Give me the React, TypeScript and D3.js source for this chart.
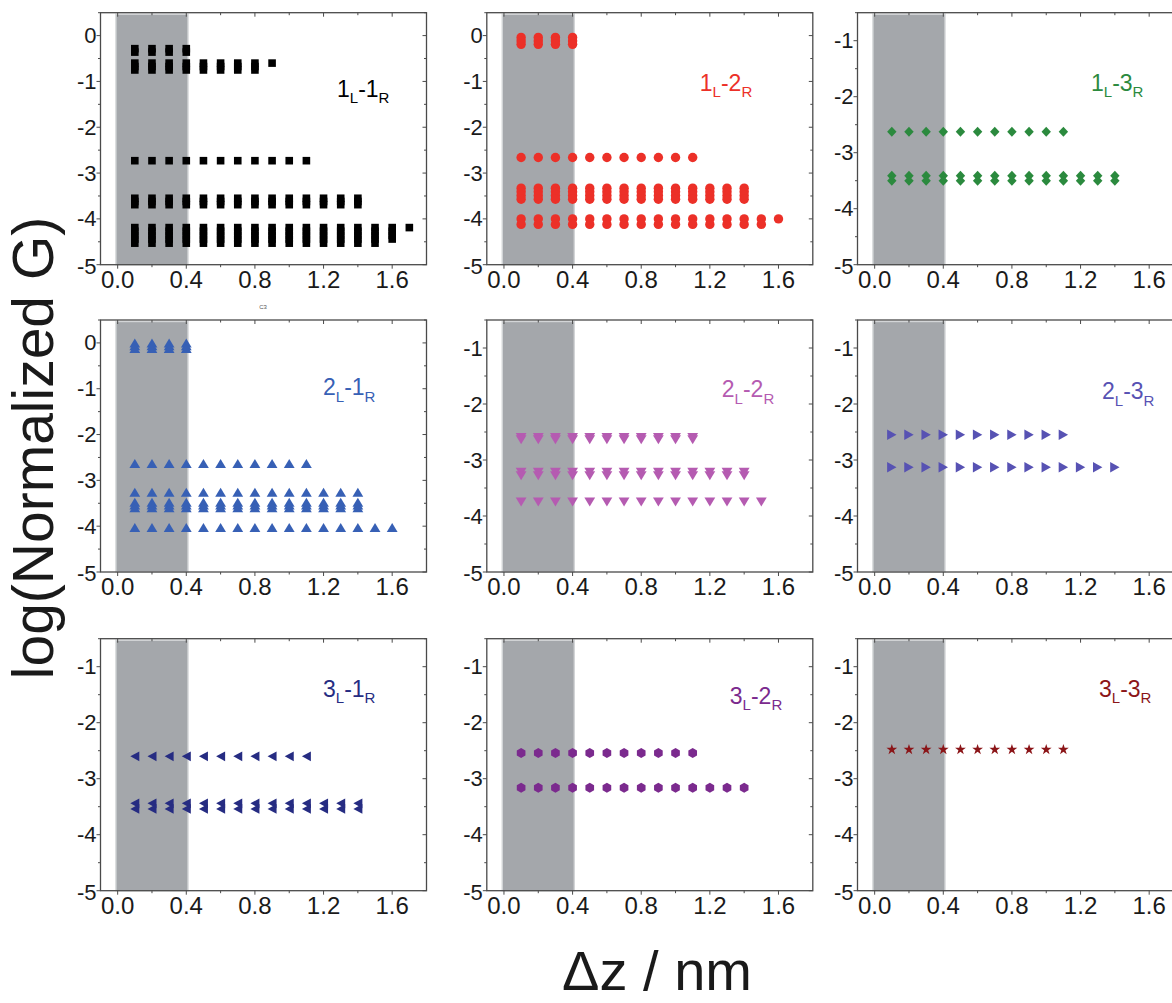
import React from "react";
import * as d3 from "d3";

// ---- Data ----
// Δz positions (nm) at which G was sampled, per series length
const dz4 = [0.1, 0.2, 0.3, 0.4];
const dz8 = [0.1, 0.2, 0.3, 0.4, 0.5, 0.6, 0.7, 0.8];
const dz9 = [0.1, 0.2, 0.3, 0.4, 0.5, 0.6, 0.7, 0.8, 0.9];
const dz11 = [0.1, 0.2, 0.3, 0.4, 0.5, 0.6, 0.7, 0.8, 0.9, 1.0, 1.1];
const dz14 = [0.1, 0.2, 0.3, 0.4, 0.5, 0.6, 0.7, 0.8, 0.9, 1.0, 1.1, 1.2, 1.3, 1.4];
const dz15 = [0.1, 0.2, 0.3, 0.4, 0.5, 0.6, 0.7, 0.8, 0.9, 1.0, 1.1, 1.2, 1.3, 1.4, 1.5];
const dz16 = [0.1, 0.2, 0.3, 0.4, 0.5, 0.6, 0.7, 0.8, 0.9, 1.0, 1.1, 1.2, 1.3, 1.4, 1.5, 1.6];
const dz17 = [0.1, 0.2, 0.3, 0.4, 0.5, 0.6, 0.7, 0.8, 0.9, 1.0, 1.1, 1.2, 1.3, 1.4, 1.5, 1.6, 1.7];

type Level = { logG: number; dz: number[] };

const levels1L1R: Level[] = [
  { logG: -0.285, dz: dz4 },
  { logG: -0.36, dz: dz4 },
  { logG: -0.6, dz: dz9 },
  { logG: -0.675, dz: dz8 },
  { logG: -0.75, dz: dz8 },
  { logG: -2.73, dz: dz11 },
  { logG: -3.55, dz: dz14 },
  { logG: -3.62, dz: dz14 },
  { logG: -3.69, dz: dz14 },
  { logG: -4.19, dz: dz17 },
  { logG: -4.27, dz: dz16 },
  { logG: -4.36, dz: dz16 },
  { logG: -4.44, dz: dz16 },
  { logG: -4.53, dz: dz15 },
];
const levels1L2R: Level[] = [
  { logG: -0.04, dz: dz4 },
  { logG: -0.115, dz: dz4 },
  { logG: -0.19, dz: dz4 },
  { logG: -2.66, dz: dz11 },
  { logG: -3.33, dz: dz14 },
  { logG: -3.41, dz: dz14 },
  { logG: -3.49, dz: dz14 },
  { logG: -3.57, dz: dz14 },
  { logG: -4.0, dz: dz16 },
  { logG: -4.12, dz: dz15 },
];
const levels1L3R: Level[] = [
  { logG: -2.625, dz: dz11 },
  { logG: -3.41, dz: dz14 },
  { logG: -3.5, dz: dz14 },
];
const levels2L1R: Level[] = [
  { logG: 0.0, dz: dz4 },
  { logG: -0.06, dz: dz4 },
  { logG: -0.12, dz: dz4 },
  { logG: -2.63, dz: dz11 },
  { logG: -3.26, dz: dz14 },
  { logG: -3.48, dz: dz14 },
  { logG: -3.54, dz: dz14 },
  { logG: -3.6, dz: dz14 },
  { logG: -4.03, dz: dz16 },
];
const levels2L2R: Level[] = [
  { logG: -2.6, dz: dz11 },
  { logG: -2.64, dz: dz11 },
  { logG: -3.22, dz: dz14 },
  { logG: -3.28, dz: dz14 },
  { logG: -3.75, dz: dz15 },
];
const levels2L3R: Level[] = [
  { logG: -2.55, dz: dz11 },
  { logG: -3.13, dz: dz14 },
];
const levels3L1R: Level[] = [
  { logG: -2.6, dz: dz11 },
  { logG: -3.44, dz: dz14 },
  { logG: -3.54, dz: dz14 },
];
const levels3L2R: Level[] = [
  { logG: -2.54, dz: dz11 },
  { logG: -3.16, dz: dz14 },
];
const levels3L3R: Level[] = [{ logG: -2.48, dz: dz11 }];

const xMajorTicks = [0.0, 0.4, 0.8, 1.2, 1.6];
const xMinorTicks = [0.2, 0.6, 1.0, 1.4];
const yTicksFull = [0, -1, -2, -3, -4, -5];
const yTicksLow = [-1, -2, -3, -4, -5];
const yMinorFull = [0.5, -0.5, -1.5, -2.5, -3.5, -4.5];
const yMinorLow = [-0.5, -1.5, -2.5, -3.5, -4.5];
const bandRange = [-0.01, 0.41];
const xDomain = [-0.1, 1.8];

// ---- Layout / style ----
const FONT = "Arial, 'Liberation Sans', Helvetica, sans-serif";
const colLeft = [100.5, 486.8, 857.5];
const rowTop = [12.7, 320, 638.7];
const PW = 326;
const PH = 252;

const hexPath = (() => {
  const r = 5;
  const pts = d3.range(6).map((i) => {
    const a = (Math.PI / 3) * i - Math.PI / 2;
    return [r * Math.cos(a), r * Math.sin(a)];
  });
  return "M" + pts.map((p) => p[0].toFixed(2) + "," + p[1].toFixed(2)).join("L") + "Z";
})();

const markerPaths: Record<string, string> = {
  square: "M-3.8,-3.8h7.6v7.6h-7.6z",
  circle: d3.symbol(d3.symbolCircle, Math.PI * 4.7 * 4.7)() as string,
  diamond: "M0,-5L4.7,0L0,5L-4.7,0Z",
  triUp: "M0,-4.5L5.4,4.5L-5.4,4.5Z",
  triDown: "M0,4.5L5.4,-4.5L-5.4,-4.5Z",
  triRight: "M4.7,0L-4.7,-5.3L-4.7,5.3Z",
  triLeft: "M-4.5,0L4.5,-4.9L4.5,4.9Z",
  hexagon: hexPath,
  star: d3.symbol(d3.symbolStar, 36)() as string,
};

type PanelDef = {
  levels: Level[];
  color: string;
  marker: string;
  yTop: number;
  col: number;
  row: number;
  lab: [string, string, string, string];
  lx: number;
  ly: number;
};

const panels: PanelDef[] = [
  { levels: levels1L1R, color: "#000000", marker: "square", yTop: 0.5, col: 0, row: 0, lab: ["1", "L", "-1", "R"], lx: 236.5, ly: 84.3 },
  { levels: levels1L2R, color: "#ec3028", marker: "circle", yTop: 0.5, col: 1, row: 0, lab: ["1", "L", "-2", "R"], lx: 213, ly: 78.3 },
  { levels: levels1L3R, color: "#2b8a3e", marker: "diamond", yTop: -0.5, col: 2, row: 0, lab: ["1", "L", "-3", "R"], lx: 233.5, ly: 78.3 },
  { levels: levels2L1R, color: "#3760b5", marker: "triUp", yTop: 0.5, col: 0, row: 1, lab: ["2", "L", "-1", "R"], lx: 222.5, ly: 75 },
  { levels: levels2L2R, color: "#b55bb1", marker: "triDown", yTop: -0.5, col: 1, row: 1, lab: ["2", "L", "-2", "R"], lx: 235, ly: 77 },
  { levels: levels2L3R, color: "#5752b3", marker: "triRight", yTop: -0.5, col: 2, row: 1, lab: ["2", "L", "-3", "R"], lx: 244.5, ly: 79 },
  { levels: levels3L1R, color: "#262c82", marker: "triLeft", yTop: -0.5, col: 0, row: 2, lab: ["3", "L", "-1", "R"], lx: 222.5, ly: 58 },
  { levels: levels3L2R, color: "#7b2a8e", marker: "hexagon", yTop: -0.5, col: 1, row: 2, lab: ["3", "L", "-2", "R"], lx: 243, ly: 65 },
  { levels: levels3L3R, color: "#8b1518", marker: "star", yTop: -0.5, col: 2, row: 2, lab: ["3", "L", "-3", "R"], lx: 241.5, ly: 58 },
];

const FRAME = "#4a4a4a";

function Panel({ p }: { p: PanelDef }) {
  const left = colLeft[p.col];
  const top = rowTop[p.row];
  const x = d3.scaleLinear().domain(xDomain).range([0, PW]);
  const y = d3.scaleLinear().domain([-5, p.yTop]).range([PH, 0]);
  const yMajor = p.yTop > 0 ? yTicksFull : yTicksLow;
  const yMinor = p.yTop > 0 ? yMinorFull : yMinorLow;
  const path = markerPaths[p.marker];
  return (
    <g transform={`translate(${left},${top})`}>
      <rect
        x={x(bandRange[0])}
        y={1.5}
        width={x(bandRange[1]) - x(bandRange[0])}
        height={PH - 1.5}
        fill="#a4a7ab"
        stroke="#d3d5d7"
        strokeWidth={1.4}
      />
      {p.levels.map((lv, i) => (
        <g key={i} fill={p.color}>
          {lv.dz.map((d, j) => (
            <path key={j} d={path} transform={`translate(${x(d)},${y(lv.logG)})`} />
          ))}
        </g>
      ))}
      <rect x={0} y={0} width={PW} height={PH} fill="none" stroke={FRAME} strokeWidth={1.3} />
      {xMajorTicks.map((t) => (
        <g key={"xm" + t}>
          <line x1={x(t)} x2={x(t)} y1={PH} y2={PH + 4} stroke={FRAME} strokeWidth={1} />
          <line x1={x(t)} x2={x(t)} y1={0} y2={4} stroke={FRAME} strokeWidth={1} />
          <text x={x(t)} y={PH + 23} fontSize={24} textAnchor="middle" fill="#1a1a1a" fontFamily={FONT}>
            {t.toFixed(1)}
          </text>
        </g>
      ))}
      {xMinorTicks.map((t) => (
        <g key={"xn" + t}>
          <line x1={x(t)} x2={x(t)} y1={PH} y2={PH + 2.5} stroke={FRAME} strokeWidth={1} />
          <line x1={x(t)} x2={x(t)} y1={0} y2={2.5} stroke={FRAME} strokeWidth={1} />
        </g>
      ))}
      {yMajor.map((t) => (
        <g key={"ym" + t}>
          <line x1={-4} x2={0} y1={y(t)} y2={y(t)} stroke={FRAME} strokeWidth={1} />
          <line x1={PW - 4} x2={PW} y1={y(t)} y2={y(t)} stroke={FRAME} strokeWidth={1} />
          <text
            x={-4}
            y={y(t) + (t === -5 ? 9 : 7.5)}
            fontSize={22}
            textAnchor="end"
            fill="#1a1a1a"
            fontFamily={FONT}
          >
            {String(t)}
          </text>
        </g>
      ))}
      {yMinor.map((t) => (
        <g key={"yn" + t}>
          <line x1={-2.5} x2={0} y1={y(t)} y2={y(t)} stroke={FRAME} strokeWidth={1} />
          <line x1={PW - 2.5} x2={PW} y1={y(t)} y2={y(t)} stroke={FRAME} strokeWidth={1} />
        </g>
      ))}
      <text x={p.lx} y={p.ly} fontSize={23} fill={p.color} fontFamily={FONT}>
        {p.lab[0]}
        <tspan fontSize={15} dy={6.5}>
          {p.lab[1]}
        </tspan>
        <tspan fontSize={23} dy={-6.5}>
          {p.lab[2]}
        </tspan>
        <tspan fontSize={15} dy={6.5}>
          {p.lab[3]}
        </tspan>
      </text>
    </g>
  );
}

export default function App() {
  return (
    <svg
      width={1172}
      height={1003}
      viewBox="0 0 1172 1003"
      style={{ position: "absolute", left: 0, top: 0, background: "#ffffff" }}
    >
      <rect x={0} y={0} width={1172} height={1003} fill="#ffffff" />
      {panels.map((p, i) => (
        <Panel key={i} p={p} />
      ))}
      <text x={263} y={309} fontSize={6} textAnchor="middle" fill="#555" fontFamily={FONT}>
        C3
      </text>
      <text
        transform="translate(53,448) rotate(-90)"
        fontSize={57}
        textAnchor="middle"
        fill="#1a1a1a"
        fontFamily={FONT}
      >
        log(Normalized G)
      </text>
      <text x={657} y={990} fontSize={56} textAnchor="middle" fill="#1a1a1a" fontFamily={FONT}>
        Δz / nm
      </text>
    </svg>
  );
}
